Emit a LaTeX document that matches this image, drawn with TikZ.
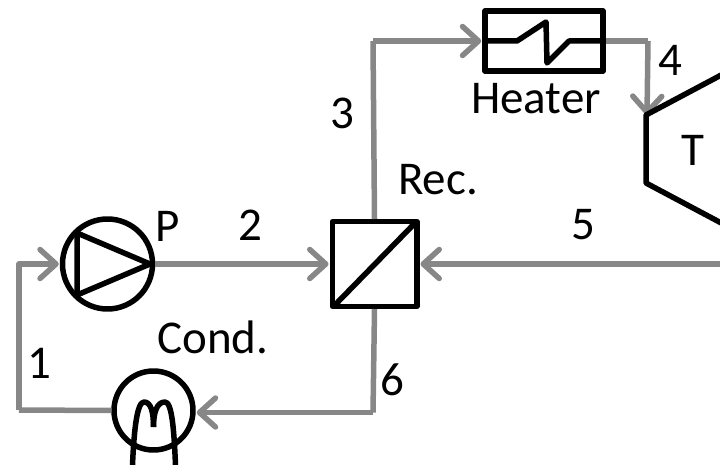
\documentclass[tikz,border=0pt]{standalone}
\usepackage{fontspec}
\setmainfont{Carlito}
\usetikzlibrary{arrows.meta}
\tikzset{
	part/.style={draw=black, line width=5.5pt, line join=round, inner sep=0pt, fill=none},
	pipe/.style={draw=black!47, line width=5.5pt, line join=round},
	flow/.style={pipe, -{Straight Barb[length=16pt, width=29pt, round, line width=5.5pt]}},
	lab/.style={font=\fontsize{47}{47}\selectfont, inner sep=0pt, text=black}
}

\begin{document}
\begin{tikzpicture}[x=1pt, y=-1pt]
			%%%%% START %%%%%
			
			\useasboundingbox (0, 0) rectangle (720, 465);
			\clip (0, 0) rectangle (720, 465);
			
			\node[part, circle, minimum size=90pt] (pump) at (107.5, 264) {};
			\node[part, rectangle, minimum width=84.5pt, minimum height=84.5pt] (rec) at (374.5, 264) {};
			\node[part, rectangle, minimum width=118pt, minimum height=60pt] (heater) at (544, 41) {};
			\node[part, circle, minimum size=79pt] (cond) at (153.5, 410.5) {};
			
			\coordinate (turbin) at (647, 115);
			\coordinate (turbout) at (720, 264);
			\coordinate (corner1) at (19, 410);
			\coordinate (corner3) at (373, 41);
			\coordinate (corner4) at (648, 41);
			\coordinate (corner6) at (373, 412.5);
			
			\draw[pipe] (cond.west) -- (corner1);
			\draw[flow] (corner1) |- ([xshift=-1pt]pump.west);
			\draw[flow] (pump.east) -- ([xshift=-1pt]rec.west);
			\draw[pipe] (rec.north) -- (corner3);
			\draw[flow] (corner3) -- ([xshift=-1pt]heater.west);
			\draw[pipe] (heater.east) -- (corner4);
			\draw[flow] (corner4) -- (turbin);
			\draw[flow] (turbout) -- ([xshift=1pt]rec.east);
			\draw[pipe] (rec.south) -- (corner6);
			\draw[flow] (corner6) -- ([xshift=1pt]corner6 -| cond.east);
			
			\draw[part] (77, 233) -- (77, 295) -- (150, 264) -- cycle;
			\draw[part] (333, 307) -- (416, 222);
			\draw[part] (heater.west) -- (517, 41) -- (546, 22) -- (547, 63) -- (569, 41) -- (heater.east);
			\draw[part] (132.5, 465) .. controls (134, 430) and (137, 402) .. (144, 402) .. controls (151, 402) and (153.5, 412) .. (153.5, 427);
			\draw[part] (175.5, 465) .. controls (174, 430) and (172, 402) .. (165, 402) .. controls (157, 402) and (153.5, 412) .. (153.5, 427);
			\draw[part] (725, 73) -- (646, 115) -- (646, 183) -- (725, 225);
			
			\node[lab] (lblP) at (168, 226) {P};
			\node[lab] (lbl2) at (250, 225) {2};
			\node[lab] (lblRec) at (438, 180) {Rec.};
			\node[lab] (lbl3) at (342, 113) {3};
			\node[lab] (lbl5) at (583, 225) {5};
			\node[lab] (lbl4) at (670, 60) {4};
			\node[lab] (lblT) at (693, 150) {T};
			\node[lab] (lblHeater) at (536, 99) {Heater};
			\node[lab] (lblCond) at (213, 337) {Cond.};
			\node[lab] (lbl1) at (39, 363) {1};
			\node[lab] (lbl6) at (392, 380) {6};
			
			%%%%% END %%%%%
		\end{tikzpicture}
\end{document}
